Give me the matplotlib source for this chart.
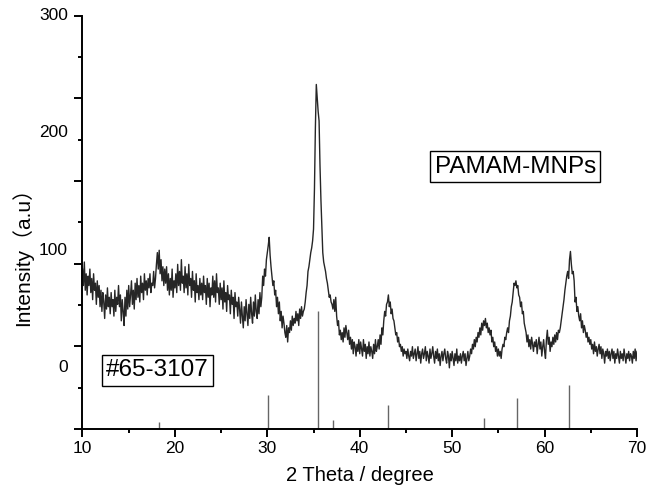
import numpy as np
import matplotlib
matplotlib.use('Agg')
import matplotlib.pyplot as plt
from matplotlib.ticker import FixedLocator

plt.rcParams['font.family'] = ['Liberation Sans', 'Noto Sans CJK SC', 'DejaVu Sans']

# measured pattern, 10.0 - 70.0 deg in 0.1 deg steps (one row per degree)
two_theta = np.round(np.arange(100, 701) * 0.1, 1)
intensity = [
    84, 70, 90, 66, 80, 62, 78, 70, 84, 64,
    76, 58, 80, 66, 72, 54, 74, 60, 70, 52,
    66, 48, 64, 56, 42, 62, 50, 68, 52, 60,
    46, 64, 52, 58, 44, 66, 48, 60, 54, 70,
    52, 62, 40, 58, 48, 36, 60, 44, 66, 50,
    70, 52, 62, 74, 54, 66, 50, 72, 58, 76,
    60, 70, 56, 78, 64, 72, 58, 80, 66, 74,
    62, 76, 68, 80, 64, 72, 70, 82, 68, 76,
    88, 98, 84, 100, 80, 92, 74, 86, 70, 84,
    72, 86, 66, 80, 62, 76, 66, 84, 60, 74,
    68, 80, 64, 88, 70, 82, 66, 92, 72, 78,
    64, 86, 68, 80, 62, 88, 70, 76, 60, 82,
    66, 74, 56, 80, 64, 70, 58, 76, 62, 72,
    58, 78, 64, 70, 54, 76, 60, 72, 52, 68,
    62, 78, 60, 74, 56, 80, 64, 68, 54, 72,
    58, 68, 50, 74, 56, 64, 48, 70, 58, 62,
    46, 66, 54, 60, 42, 64, 52, 56, 44, 60,
    50, 38, 56, 44, 34, 52, 40, 58, 46, 36,
    54, 42, 60, 46, 38, 56, 44, 62, 48, 42,
    58, 46, 64, 52, 60, 78, 70, 84, 78, 92,
    98, 104, 111, 96, 86, 78, 70, 74, 62, 66,
    52, 60, 46, 56, 40, 48, 34, 44, 38, 30,
    26, 36, 22, 34, 30, 40, 32, 44, 36, 42,
    38, 48, 40, 46, 36, 50, 42, 52, 44, 48,
    50, 56, 64, 70, 82, 86, 92, 98, 102, 108,
    118, 152, 204, 241, 230, 218, 210, 172, 143, 120,
    98, 90, 86, 82, 76, 72, 66, 60, 62, 56,
    54, 50, 58, 48, 60, 44, 36, 40, 28, 32,
    24, 30, 22, 34, 26, 36, 30, 24, 32, 20,
    26, 16, 24, 12, 22, 18, 10, 20, 14, 24,
    12, 22, 16, 10, 24, 14, 20, 8, 18, 12,
    22, 10, 18, 14, 8, 20, 12, 24, 14, 18,
    24, 16, 28, 20, 34, 28, 40, 48, 44, 54,
    56, 62, 52, 56, 46, 50, 42, 40, 34, 28,
    30, 22, 26, 18, 20, 14, 18, 10, 16, 12,
    14, 8, 16, 10, 6, 14, 10, 18, 8, 12,
    16, 6, 12, 18, 8, 14, 4, 12, 16, 8,
    12, 18, 6, 14, 10, 4, 16, 8, 12, 18,
    10, 4, 14, 8, 16, 6, 12, 2, 10, 14,
    6, 12, 16, 8, 4, 14, 10, 0, 12, 6,
    14, 8, 2, 12, 6, 16, 4, 10, 6, 12,
    4, 10, 14, 6, 12, 2, 8, 14, 6, 10,
    16, 12, 20, 16, 24, 18, 26, 22, 30, 26,
    34, 28, 38, 32, 40, 36, 42, 34, 38, 30,
    34, 28, 32, 22, 26, 18, 22, 14, 18, 10,
    16, 10, 14, 8, 16, 20, 18, 26, 24, 30,
    34, 30, 40, 44, 52, 56, 64, 72, 70, 74,
    68, 70, 62, 60, 52, 56, 46, 48, 38, 34,
    30, 22, 28, 18, 24, 16, 26, 20, 14, 22,
    18, 24, 12, 20, 26, 16, 22, 10, 18, 24,
    14, 8, 24, 32, 20, 26, 14, 22, 18, 26,
    20, 28, 22, 30, 24, 32, 30, 34, 40, 46,
    52, 58, 66, 72, 78, 82, 76, 92, 99, 88,
    80, 82, 74, 56, 60, 48, 52, 44, 40, 46,
    34, 40, 30, 36, 32, 26, 30, 22, 26, 20,
    24, 16, 20, 12, 22, 14, 18, 10, 16, 20,
    12, 18, 8, 16, 12, 4, 14, 10, 16, 8,
    14, 6, 12, 16, 8, 14, 4, 12, 8, 16,
    10, 4, 14, 8, 12, 6, 16, 10, 4, 12,
    8, 14, 6, 12, 10, 4, 14, 8, 16, 6,
    14,
]

# JCPDS #65-3107 reference lines (top of each stick, same intensity scale)
ref_pos = [18.3, 30.1, 35.45, 37.1, 43.1, 53.5, 57.0, 62.6]
ref_top = [-46, -23.5, 48, -44, -32, -43, -25.5, -14.5]

ytick_labels = ['300', '200', '100', '0']
ytick_values = [300, 200, 100, 0]

fig = plt.figure(figsize=(6.48, 4.96), dpi=100)
ax = fig.add_axes([0.1273, 0.1351, 0.8557, 0.8333])

ymin, ymax = -52, 299.5
ax.plot(two_theta, intensity, color='#262626', lw=1.0)
ax.vlines(ref_pos, ymin, ref_top, color='#666666', lw=1.0)

ax.set_xlim(10, 70)
ax.set_ylim(ymin, ymax)

ax.spines['top'].set_visible(False)
ax.spines['right'].set_visible(False)
for s in ['left', 'bottom']:
    ax.spines[s].set_linewidth(1.4)

ax.set_xticks(np.arange(10, 71, 10))
ax.xaxis.set_minor_locator(FixedLocator(np.arange(15, 70, 10)))
major_y = np.linspace(ymin, ymax, 6)
ax.yaxis.set_major_locator(FixedLocator(major_y))
ax.yaxis.set_minor_locator(FixedLocator((major_y[:-1] + major_y[1:]) / 2))
ax.set_yticklabels([])
ax.tick_params(which='major', direction='out', length=5.5, width=1.4, labelsize=12.5, pad=3)
ax.tick_params(which='minor', direction='out', length=3, width=1.4)
ax.tick_params(axis='y', which='major', labelleft=False)

for v, lab in zip(ytick_values, ytick_labels):
    ax.text(-0.026, v, lab, transform=ax.get_yaxis_transform(),
            ha='right', va='center', fontsize=12.5)

ax.set_xlabel('2 Theta / degree', fontsize=14.5, labelpad=7)
fig.text(22 / 648, 1 - 252 / 496, 'Intensity\uff08a.u\uff09', rotation=90,
         ha='center', va='center', fontsize=15)

box = dict(boxstyle='square,pad=0.18', fc='white', ec='black', lw=1)
ax.text(56.85, 171, 'PAMAM-MNPs', fontsize=17.5, ha='center', va='center', bbox=box)
ax.text(18.1, -2, '#65-3107', fontsize=17.5, ha='center', va='center', bbox=box)

fig.savefig('out.png', dpi=100)
